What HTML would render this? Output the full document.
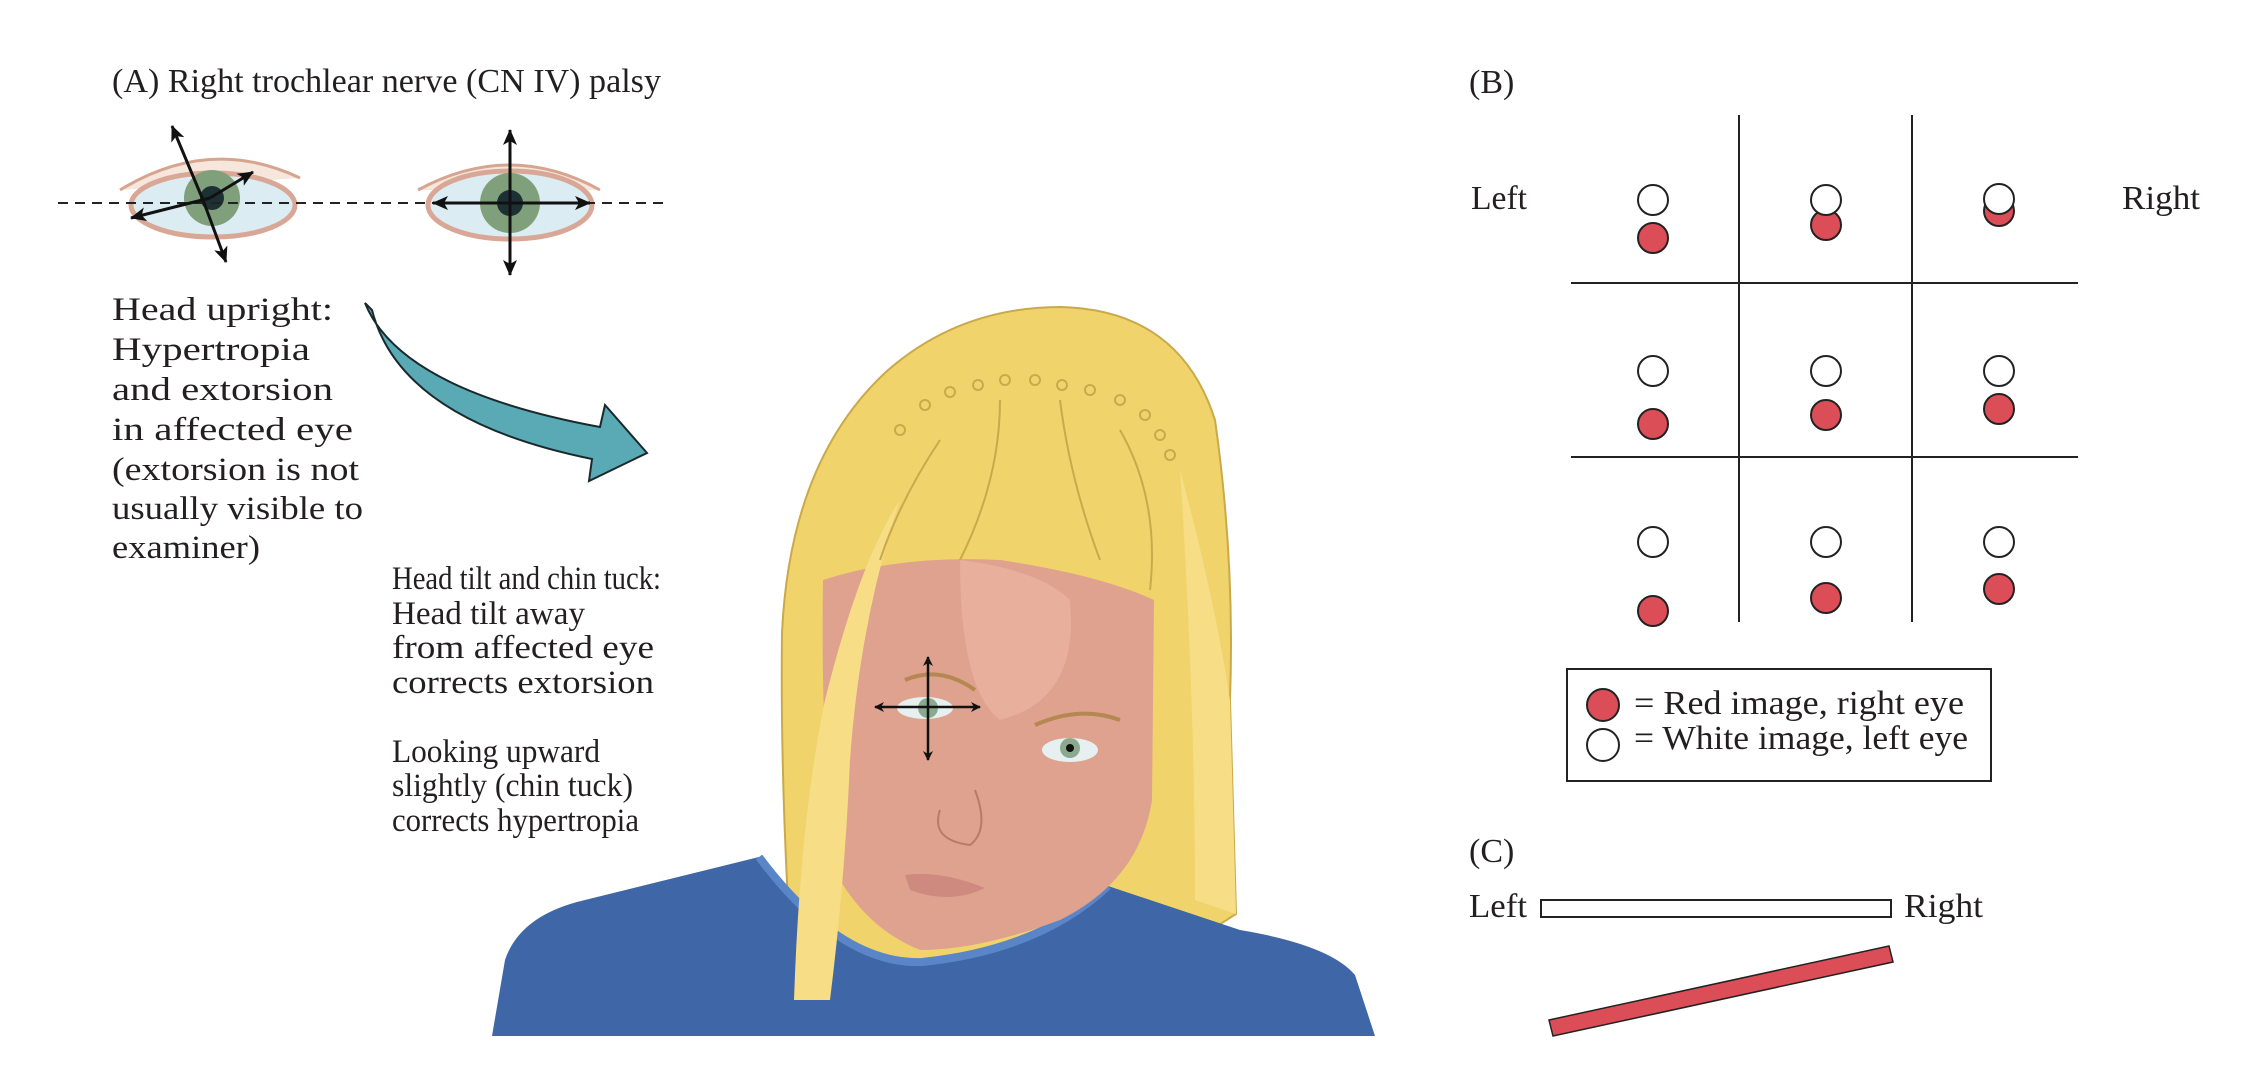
<!DOCTYPE html>
<html><head><meta charset="utf-8"><style>
html,body{margin:0;padding:0;background:#fff;}
svg{display:block;}
text{font-family:"Liberation Serif",serif;fill:#231f20;}
</style></head><body>
<svg width="2254" height="1078" viewBox="0 0 2254 1078" xmlns="http://www.w3.org/2000/svg">
<defs>
<marker id="ah" markerWidth="10" markerHeight="10" refX="9" refY="5" orient="auto" markerUnits="userSpaceOnUse" viewBox="0 0 10 10"><path d="M0,0 L10,5 L0,10 L3,5 Z" fill="#111"/></marker>
<marker id="ah2" markerWidth="16" markerHeight="14" refX="15" refY="7" orient="auto" markerUnits="userSpaceOnUse" viewBox="0 0 16 14"><path d="M0,0 L16,7 L0,14 L4,7 Z" fill="#111"/></marker>
</defs>
<g font-size="34">
<text x="112" y="92" textLength="549" lengthAdjust="spacingAndGlyphs">(A)  Right trochlear nerve (CN IV) palsy</text>
</g>
<g font-size="33">
<text x="112" y="320" textLength="221" lengthAdjust="spacingAndGlyphs">Head upright:</text>
<text x="112" y="360" textLength="198" lengthAdjust="spacingAndGlyphs">Hypertropia</text>
<text x="112" y="400" textLength="221" lengthAdjust="spacingAndGlyphs">and extorsion</text>
<text x="112" y="440" textLength="241" lengthAdjust="spacingAndGlyphs">in affected eye</text>
<text x="112" y="480" textLength="247" lengthAdjust="spacingAndGlyphs">(extorsion is not</text>
<text x="112" y="519" textLength="251" lengthAdjust="spacingAndGlyphs">usually visible to</text>
<text x="112" y="558" textLength="148" lengthAdjust="spacingAndGlyphs">examiner)</text>
<text x="392" y="589" textLength="269" lengthAdjust="spacingAndGlyphs">Head tilt and chin tuck:</text>
<text x="392" y="624" textLength="193" lengthAdjust="spacingAndGlyphs">Head tilt away</text>
<text x="392" y="658" textLength="262" lengthAdjust="spacingAndGlyphs">from affected eye</text>
<text x="392" y="693" textLength="262" lengthAdjust="spacingAndGlyphs">corrects extorsion</text>
<text x="392" y="762" textLength="208" lengthAdjust="spacingAndGlyphs">Looking upward</text>
<text x="392" y="796" textLength="241" lengthAdjust="spacingAndGlyphs">slightly (chin tuck)</text>
<text x="392" y="831" textLength="247" lengthAdjust="spacingAndGlyphs">corrects hypertropia</text>
</g>
<!-- eyes panel A -->
<g>
<path d="M120,190 Q210,135 300,178" fill="#f6e6dc" stroke="#d6a58f" stroke-width="3"/>
<ellipse cx="213" cy="205" rx="82" ry="32" fill="#dcecf3" stroke="#d9a796" stroke-width="5"/>
<circle cx="212" cy="198" r="28" fill="#7fa07a"/><circle cx="212" cy="198" r="12" fill="#1d3034"/>
<path d="M418,190 Q510,140 600,190" fill="#f6e6dc" stroke="#d6a58f" stroke-width="3"/>
<ellipse cx="510" cy="205" rx="82" ry="34" fill="#dcecf3" stroke="#d9a796" stroke-width="5"/>
<circle cx="510" cy="203" r="30" fill="#7fa07a"/><circle cx="510" cy="203" r="13" fill="#1d3034"/>
</g>
<line x1="58" y1="203" x2="665" y2="203" stroke="#222" stroke-width="2" stroke-dasharray="10,7"/>
<g stroke="#111" stroke-width="3">
<line x1="203" y1="200" x2="172" y2="126" marker-end="url(#ah2)"/>
<line x1="203" y1="200" x2="226" y2="262" marker-end="url(#ah2)"/>
<line x1="210" y1="198" x2="253" y2="172" marker-end="url(#ah2)"/>
<line x1="210" y1="198" x2="131" y2="218" marker-end="url(#ah2)"/>
<line x1="510" y1="203" x2="510" y2="130" marker-end="url(#ah2)"/>
<line x1="510" y1="203" x2="510" y2="275" marker-end="url(#ah2)"/>
<line x1="510" y1="203" x2="433" y2="203" marker-end="url(#ah2)"/>
<line x1="510" y1="203" x2="590" y2="203" marker-end="url(#ah2)"/>
</g>
<!-- curved arrow -->
<path d="M365,303 Q400,390 600,427 L605,405 L647,453 L589,481 L592,459 Q400,420 372,310 Z" fill="#5aaab5" stroke="#1a2a2c" stroke-width="2"/>
<!-- woman -->
<path d="M1061,307 Q1180,310 1215,420 Q1235,560 1230,700 L1236,914 L1180,950 L1050,980 L900,960 L794,1000 Q780,800 782,633 Q790,460 887,371 Q960,307 1061,307 Z" fill="#f1d36c" stroke="#c9a94a" stroke-width="2"/>
<path d="M492,1036 L505,960 Q520,915 585,900 L759,857 Q840,965 922,962 Q1040,950 1108,886 L1240,930 Q1330,945 1355,975 L1375,1036 Z" fill="#3f66a6"/>
<path d="M759,857 Q840,965 922,962 Q1040,950 1108,886" fill="none" stroke="#5a86c8" stroke-width="8"/>
<path d="M823,580 Q900,555 1000,560 Q1100,575 1154,600 L1152,800 Q1140,880 1060,920 Q980,950 920,950 Q870,930 840,880 Q820,780 823,580 Z" fill="#dfa28e"/>
<path d="M960,560 Q1040,570 1070,600 Q1080,700 1000,720 Q960,690 960,560 Z" fill="#e9b5a3" opacity="0.7"/>
<path d="M794,1000 Q800,820 825,700 Q860,560 900,500 Q860,620 850,760 Q845,880 830,1000 Z" fill="#f6dd86"/>
<path d="M1180,470 Q1215,600 1230,700 L1236,914 L1195,900 Q1195,700 1180,470 Z" fill="#f6dd86"/>
<g fill="none" stroke="#c9a94a" stroke-width="2">
<circle cx="900" cy="430" r="5"/><circle cx="925" cy="405" r="5"/><circle cx="950" cy="392" r="5"/><circle cx="978" cy="385" r="5"/><circle cx="1005" cy="380" r="5"/><circle cx="1035" cy="380" r="5"/><circle cx="1062" cy="385" r="5"/><circle cx="1090" cy="390" r="5"/><circle cx="1120" cy="400" r="5"/><circle cx="1145" cy="415" r="5"/><circle cx="1160" cy="435" r="5"/><circle cx="1170" cy="455" r="5"/>
<path d="M1000,400 Q1000,480 960,560"/><path d="M1060,400 Q1070,480 1100,560"/><path d="M940,440 Q900,500 880,560"/><path d="M1120,430 Q1160,500 1150,590"/>
</g>
<ellipse cx="925" cy="708" rx="28" ry="11" fill="#e6f0f0"/><circle cx="928" cy="708" r="10" fill="#8aa98e"/>
<ellipse cx="1070" cy="750" rx="28" ry="12" fill="#e6f0f0"/><circle cx="1070" cy="748" r="10" fill="#8aa98e"/><circle cx="1070" cy="748" r="4" fill="#111"/>
<path d="M905,680 Q940,665 975,690" fill="none" stroke="#b48850" stroke-width="4"/>
<path d="M1035,725 Q1080,705 1120,720" fill="none" stroke="#b48850" stroke-width="4"/>
<path d="M940,810 Q930,840 970,845 Q990,830 975,790" fill="none" stroke="#b97a68" stroke-width="2"/>
<path d="M905,875 Q940,870 985,888 Q950,905 910,890 Z" fill="#cf8a80"/>
<g stroke="#111" stroke-width="2.5">
<line x1="928" y1="707" x2="928" y2="657" marker-end="url(#ah)"/>
<line x1="928" y1="707" x2="928" y2="760" marker-end="url(#ah)"/>
<line x1="928" y1="707" x2="875" y2="707" marker-end="url(#ah)"/>
<line x1="928" y1="707" x2="980" y2="707" marker-end="url(#ah)"/>
</g>
<!-- Panel B -->
<g font-size="34">
<text x="1469" y="93">(B)</text>
<text x="1471" y="209" textLength="56" lengthAdjust="spacingAndGlyphs">Left</text>
<text x="2122" y="209" textLength="78" lengthAdjust="spacingAndGlyphs">Right</text>
<text x="1469" y="862">(C)</text>
<text x="1469" y="917" textLength="58" lengthAdjust="spacingAndGlyphs">Left</text>
<text x="1904" y="917" textLength="79" lengthAdjust="spacingAndGlyphs">Right</text>
<text x="1634" y="714" textLength="330" lengthAdjust="spacingAndGlyphs">= Red image, right eye</text>
<text x="1634" y="749" textLength="334" lengthAdjust="spacingAndGlyphs">= White image, left eye</text>
</g>
<g stroke="#222" stroke-width="2">
<line x1="1739" y1="115" x2="1739" y2="622"/>
<line x1="1912" y1="115" x2="1912" y2="622"/>
<line x1="1571" y1="283" x2="2078" y2="283"/>
<line x1="1571" y1="457" x2="2078" y2="457"/>
</g>
<g stroke="#222" stroke-width="2">
<circle cx="1653" cy="238" r="15" fill="#dc4e57"/><circle cx="1653" cy="200" r="15" fill="#fff"/>
<circle cx="1826" cy="225" r="15" fill="#dc4e57"/><circle cx="1826" cy="200" r="15" fill="#fff"/>
<circle cx="1999" cy="211" r="15" fill="#dc4e57"/><circle cx="1999" cy="199" r="15" fill="#fff"/>
<circle cx="1653" cy="371" r="15" fill="#fff"/><circle cx="1653" cy="424" r="15" fill="#dc4e57"/>
<circle cx="1826" cy="371" r="15" fill="#fff"/><circle cx="1826" cy="415" r="15" fill="#dc4e57"/>
<circle cx="1999" cy="371" r="15" fill="#fff"/><circle cx="1999" cy="409" r="15" fill="#dc4e57"/>
<circle cx="1653" cy="542" r="15" fill="#fff"/><circle cx="1653" cy="611" r="15" fill="#dc4e57"/>
<circle cx="1826" cy="542" r="15" fill="#fff"/><circle cx="1826" cy="598" r="15" fill="#dc4e57"/>
<circle cx="1999" cy="542" r="15" fill="#fff"/><circle cx="1999" cy="589" r="15" fill="#dc4e57"/>
<rect x="1567" y="669" width="424" height="112" fill="none"/>
<circle cx="1603" cy="705" r="16" fill="#dc4e57"/>
<circle cx="1603" cy="745" r="16" fill="#fff"/>
<rect x="1541" y="900" width="350" height="17" fill="#fff"/>
<path d="M1549,1020 L1889,946 L1893,962 L1553,1036 Z" fill="#dc4e57" stroke-width="1.5"/>
</g>
</svg>
</body></html>
